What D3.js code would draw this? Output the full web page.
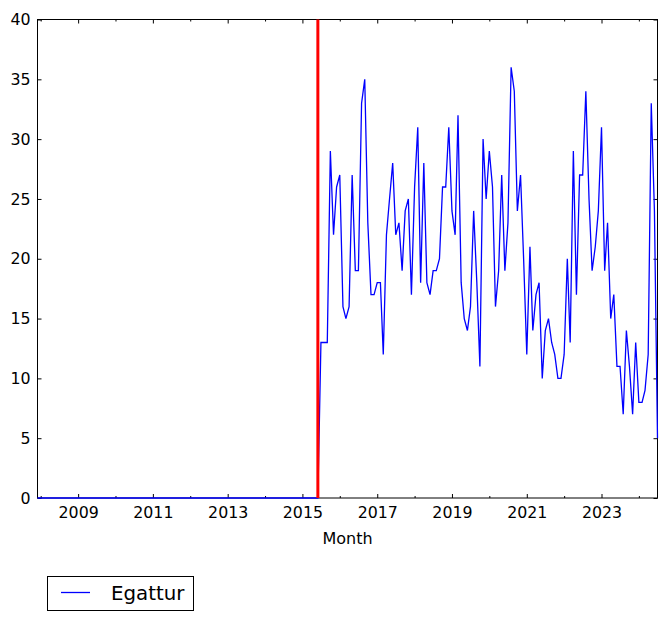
<!DOCTYPE html>
<html>
<head>
<meta charset="utf-8">
<script src="https://cdn.jsdelivr.net/npm/d3@7"></script>
<style>
  html, body { margin: 0; padding: 0; background: #fff; }
  svg { display: block; font-family: "DejaVu Sans", sans-serif; }
</style>
</head>
<body>
<svg id="chart" width="666" height="621"></svg>
<script>
// ---- data ----
const seriesName = "Egattur";
const startMonth = "2007-12";
const eventMonth = "2015-06";
const values = [
  0, // 2007-12
  0,0,0,0,0,0,0,0,0,0,0,0, // 2008
  0,0,0,0,0,0,0,0,0,0,0,0, // 2009
  0,0,0,0,0,0,0,0,0,0,0,0, // 2010
  0,0,0,0,0,0,0,0,0,0,0,0, // 2011
  0,0,0,0,0,0,0,0,0,0,0,0, // 2012
  0,0,0,0,0,0,0,0,0,0,0,0, // 2013
  0,0,0,0,0,0,0,0,0,0,0,0, // 2014
  0,0,0,0,0,0,13,13,13,29,22,26, // 2015
  27,16,15,16,27,19,19,33,35,23,17,17, // 2016
  18,18,12,22,25,28,22,23,19,24,25,17, // 2017
  26,31,18,28,18,17,19,19,20,26,26,31, // 2018
  24,22,32,18,15,14,16,24,18,11,30,25, // 2019
  29,26,16,19,27,19,23,36,34,24,27,20, // 2020
  12,21,14,17,18,10,14,15,13,12,10,10, // 2021
  12,20,13,29,17,27,27,34,25,19,21,24, // 2022
  31,19,23,15,17,11,11,7,14,11,7,13, // 2023
  8,8,9,12,33,24,5 // 2024
];
const yTicks = [0,5,10,15,20,25,30,35,40];
const xLabelYears = [2009,2011,2013,2015,2017,2019,2021,2023];
const xMinorYears = [2008,2010,2012,2014,2016,2018,2020,2022,2024];
const xAxisTitle = "Month";

// ---- layout ----
const L = 37.5, R = 657.5, T = 19.5, B = 498;
const parseM = d3.utcParse("%Y-%m");
const t0 = parseM(startMonth);
const dates = values.map((v, i) => d3.utcMonth.offset(t0, i));
const data = dates.map((d, i) => ({ date: d, value: values[i] }));

const x = d3.scaleUtc().domain([t0, dates[dates.length - 1]]).range([L, R]);
const y = d3.scaleLinear().domain([0, 40]).range([B, T]);

const svg = d3.select("#chart");

// frame (drawn first so data sits on top, like the reference)
svg.append("rect")
  .attr("x", L).attr("y", T).attr("width", R - L).attr("height", B - T)
  .attr("fill", "none").attr("stroke", "#000").attr("stroke-width", 1);

const fontSize = 15.8;
const yearDate = yr => new Date(Date.UTC(yr, 0, 1));

// bottom axis (major, labeled)
const gB = svg.append("g").attr("transform", `translate(0,${B})`)
  .call(d3.axisBottom(x).tickValues(xLabelYears.map(yearDate))
    .tickFormat(d3.utcFormat("%Y")).tickSizeInner(-4).tickSizeOuter(0).tickPadding(9));
const gBm = svg.append("g").attr("transform", `translate(0,${B})`)
  .call(d3.axisBottom(x).tickValues(xMinorYears.map(yearDate).filter(d => d <= x.domain()[1]))
    .tickFormat("").tickSizeInner(-2).tickSizeOuter(0));
const gT = svg.append("g").attr("transform", `translate(0,${T})`)
  .call(d3.axisTop(x).tickValues(xLabelYears.map(yearDate)).tickFormat("").tickSizeInner(-4).tickSizeOuter(0));
const gTm = svg.append("g").attr("transform", `translate(0,${T})`)
  .call(d3.axisTop(x).tickValues(xMinorYears.map(yearDate).filter(d => d <= x.domain()[1])).tickFormat("").tickSizeInner(-2).tickSizeOuter(0));
const gL = svg.append("g").attr("transform", `translate(${L},0)`)
  .call(d3.axisLeft(y).tickValues(yTicks).tickFormat(d3.format("d")).tickSizeInner(-4).tickSizeOuter(0).tickPadding(7));
const gR = svg.append("g").attr("transform", `translate(${R},0)`)
  .call(d3.axisRight(y).tickValues(yTicks).tickFormat("").tickSizeInner(-4).tickSizeOuter(0));

[gB, gBm, gT, gTm, gL, gR].forEach(g => {
  g.select(".domain").remove();
  g.selectAll(".tick line").attr("stroke", "#000").attr("stroke-width", 1);
  g.selectAll("text").attr("fill", "#000").style("font-size", fontSize + "px")
    .style("font-family", "'DejaVu Sans', sans-serif");
});

// series line
svg.append("path")
  .datum(data)
  .attr("fill", "none")
  .attr("stroke", "#0000ff")
  .attr("stroke-width", 1.3)
  .attr("stroke-linejoin", "miter")
  .attr("d", d3.line().x(d => x(d.date)).y(d => y(d.value)));

// event line
const ev = parseM(eventMonth);
svg.append("line")
  .attr("x1", x(ev)).attr("x2", x(ev))
  .attr("y1", T).attr("y2", B)
  .attr("stroke", "#ff0000").attr("stroke-width", 3);

// x axis title
svg.append("text")
  .attr("x", (L + R) / 2).attr("y", 544)
  .attr("text-anchor", "middle")
  .style("font-size", "16px")
  .text(xAxisTitle);

// legend
const lg = svg.append("g");
lg.append("rect").attr("x", 47.5).attr("y", 576.5).attr("width", 146).attr("height", 34)
  .attr("fill", "#fff").attr("stroke", "#000").attr("stroke-width", 1);
lg.append("line").attr("x1", 61).attr("x2", 90).attr("y1", 592.5).attr("y2", 592.5)
  .attr("stroke", "#0000ff").attr("stroke-width", 1.3);
lg.append("text").attr("x", 111).attr("y", 599.5)
  .style("font-size", "19.8px").text(seriesName);
</script>
</body>
</html>
